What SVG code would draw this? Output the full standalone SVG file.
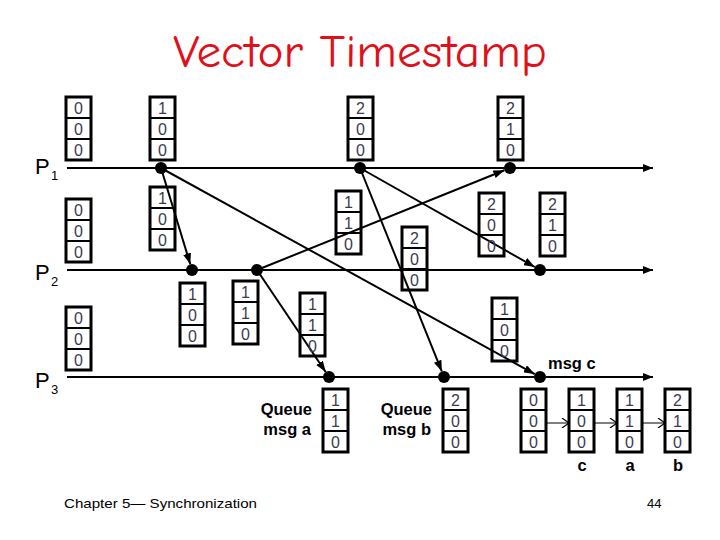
<svg xmlns="http://www.w3.org/2000/svg" width="720" height="540" viewBox="0 0 720 540">
<defs>
<style>
.box{fill:none;stroke:#000;stroke-width:3}
.div{stroke:#000;stroke-width:2}
.dg{font-family:"Liberation Sans",Arial,sans-serif;font-size:16px;fill:#3a3a50;text-anchor:middle}
.pl{stroke:#000;stroke-width:2;fill:none}
.msg{stroke:#000;stroke-width:2;fill:none}
.sm{stroke:#000;stroke-width:1;fill:none}
.lbl{font-family:"Liberation Sans",Arial,sans-serif;font-size:16.5px;font-weight:bold;fill:#000}
.pn{font-family:"Liberation Sans",Arial,sans-serif;fill:#000}
</style>
<marker id="ah" markerUnits="userSpaceOnUse" markerWidth="11" markerHeight="8" refX="11" refY="4" orient="auto"><path d="M0,0 L11,4 L0,8 z" fill="#000"/></marker>
<marker id="ph" markerUnits="userSpaceOnUse" markerWidth="10" markerHeight="8" refX="10" refY="4" orient="auto"><path d="M0,0 L10,4 L0,8 z" fill="#000"/></marker>
<marker id="oh" markerUnits="userSpaceOnUse" markerWidth="9" markerHeight="10" refX="8" refY="5" orient="auto"><path d="M1,0 L8,5 L1,10" fill="none" stroke="#000" stroke-width="1.2"/></marker>
<g id="vbox"><rect class="box" x="0" y="0" width="25" height="63"/><line class="div" x1="0" y1="21" x2="25" y2="21"/><line class="div" x1="0" y1="42" x2="25" y2="42"/></g>
</defs>
<rect width="720" height="540" fill="#fff"/>
<text x="360" y="67" font-family="'Comic Neue','Liberation Sans',Arial,sans-serif" font-size="46" fill="#e0101a" text-anchor="middle" textLength="374" lengthAdjust="spacingAndGlyphs">Vector Timestamp</text>
<g id="processes">
<g id="P1"><line class="pl" x1="67" y1="168" x2="653" y2="168" marker-end="url(#ph)"/><text class="pn" x="35" y="174" font-size="22">P</text><text class="pn" x="51" y="180" font-size="13">1</text></g>
<g id="P2"><line class="pl" x1="67" y1="270" x2="653" y2="270" marker-end="url(#ph)"/><text class="pn" x="35" y="280" font-size="22">P</text><text class="pn" x="51" y="286" font-size="13">2</text></g>
<g id="P3"><line class="pl" x1="67" y1="377" x2="653" y2="377" marker-end="url(#ph)"/><text class="pn" x="35" y="388" font-size="22">P</text><text class="pn" x="51" y="394" font-size="13">3</text></g>
</g>
<g id="connectors">
<line class="msg" x1="161" y1="168" x2="190.3" y2="264.3" marker-end="url(#ah)"/>
<line class="msg" x1="161" y1="168" x2="534.7" y2="374.1" marker-end="url(#ah)"/>
<line class="msg" x1="360" y1="168" x2="441.8" y2="371.4" marker-end="url(#ah)"/>
<line class="msg" x1="360" y1="168" x2="534.8" y2="267" marker-end="url(#ah)"/>
<line class="msg" x1="257" y1="270" x2="504.4" y2="170.2" marker-end="url(#ah)"/>
<line class="msg" x1="257" y1="270" x2="325.7" y2="372" marker-end="url(#ah)"/>
<line class="sm" x1="547" y1="423" x2="569" y2="423" marker-end="url(#oh)"/>
<line class="sm" x1="595" y1="423" x2="617" y2="423" marker-end="url(#oh)"/>
<line class="sm" x1="643" y1="423" x2="665" y2="423" marker-end="url(#oh)"/>
</g>
<g id="events" fill="#000">
<circle cx="161" cy="168" r="6"/><circle cx="360" cy="168" r="6"/><circle cx="510" cy="168" r="6"/>
<circle cx="192" cy="270" r="6"/><circle cx="257" cy="270" r="6"/><circle cx="540" cy="270" r="6"/>
<circle cx="329" cy="377" r="6"/><circle cx="444" cy="377" r="6"/><circle cx="540" cy="377" r="6"/>
</g>
<g id="v1" transform="translate(66,97)"><use href="#vbox"/><text class="dg" x="12.5" y="17">0</text><text class="dg" x="12.5" y="38">0</text><text class="dg" x="12.5" y="59">0</text></g>
<g id="v2" transform="translate(150,97)"><use href="#vbox"/><text class="dg" x="12.5" y="17">1</text><text class="dg" x="12.5" y="38">0</text><text class="dg" x="12.5" y="59">0</text></g>
<g id="v3" transform="translate(348,97)"><use href="#vbox"/><text class="dg" x="12.5" y="17">2</text><text class="dg" x="12.5" y="38">0</text><text class="dg" x="12.5" y="59">0</text></g>
<g id="v4" transform="translate(498,97)"><use href="#vbox"/><text class="dg" x="12.5" y="17">2</text><text class="dg" x="12.5" y="38">1</text><text class="dg" x="12.5" y="59">0</text></g>
<g id="v5" transform="translate(66,199)"><use href="#vbox"/><text class="dg" x="12.5" y="17">0</text><text class="dg" x="12.5" y="38">0</text><text class="dg" x="12.5" y="59">0</text></g>
<g id="v6" transform="translate(150,187)"><use href="#vbox"/><text class="dg" x="12.5" y="17">1</text><text class="dg" x="12.5" y="38">0</text><text class="dg" x="12.5" y="59">0</text></g>
<g id="v7" transform="translate(336,191)"><use href="#vbox"/><text class="dg" x="12.5" y="17">1</text><text class="dg" x="12.5" y="38">1</text><text class="dg" x="12.5" y="59">0</text></g>
<g id="v8" transform="translate(402,227)"><use href="#vbox"/><text class="dg" x="12.5" y="17">2</text><text class="dg" x="12.5" y="38">0</text><text class="dg" x="12.5" y="59">0</text></g>
<g id="v9" transform="translate(479,193)"><use href="#vbox"/><text class="dg" x="12.5" y="17">2</text><text class="dg" x="12.5" y="38">0</text><text class="dg" x="12.5" y="59">0</text></g>
<g id="v10" transform="translate(540,193)"><use href="#vbox"/><text class="dg" x="12.5" y="17">2</text><text class="dg" x="12.5" y="38">1</text><text class="dg" x="12.5" y="59">0</text></g>
<g id="v11" transform="translate(66,307)"><use href="#vbox"/><text class="dg" x="12.5" y="17">0</text><text class="dg" x="12.5" y="38">0</text><text class="dg" x="12.5" y="59">0</text></g>
<g id="v12" transform="translate(180,283)"><use href="#vbox"/><text class="dg" x="12.5" y="17">1</text><text class="dg" x="12.5" y="38">0</text><text class="dg" x="12.5" y="59">0</text></g>
<g id="v13" transform="translate(233,281)"><use href="#vbox"/><text class="dg" x="12.5" y="17">1</text><text class="dg" x="12.5" y="38">1</text><text class="dg" x="12.5" y="59">0</text></g>
<g id="v14" transform="translate(300,293)"><use href="#vbox"/><text class="dg" x="12.5" y="17">1</text><text class="dg" x="12.5" y="38">1</text><text class="dg" x="12.5" y="59">0</text></g>
<g id="v15" transform="translate(492,298)"><use href="#vbox"/><text class="dg" x="12.5" y="17">1</text><text class="dg" x="12.5" y="38">0</text><text class="dg" x="12.5" y="59">0</text></g>
<g id="v16" transform="translate(323,389)"><use href="#vbox"/><text class="dg" x="12.5" y="17">1</text><text class="dg" x="12.5" y="38">1</text><text class="dg" x="12.5" y="59">0</text></g>
<g id="v17" transform="translate(443,389)"><use href="#vbox"/><text class="dg" x="12.5" y="17">2</text><text class="dg" x="12.5" y="38">0</text><text class="dg" x="12.5" y="59">0</text></g>
<g id="v18" transform="translate(521,389)"><use href="#vbox"/><text class="dg" x="12.5" y="17">0</text><text class="dg" x="12.5" y="38">0</text><text class="dg" x="12.5" y="59">0</text></g>
<g id="v19" transform="translate(569,389)"><use href="#vbox"/><text class="dg" x="12.5" y="17">1</text><text class="dg" x="12.5" y="38">0</text><text class="dg" x="12.5" y="59">0</text></g>
<g id="v20" transform="translate(617,389)"><use href="#vbox"/><text class="dg" x="12.5" y="17">1</text><text class="dg" x="12.5" y="38">1</text><text class="dg" x="12.5" y="59">0</text></g>
<g id="v21" transform="translate(665,389)"><use href="#vbox"/><text class="dg" x="12.5" y="17">2</text><text class="dg" x="12.5" y="38">1</text><text class="dg" x="12.5" y="59">0</text></g>
<g id="labels">
<text class="lbl" x="312" y="415" text-anchor="end">Queue</text>
<text class="lbl" x="311" y="435" text-anchor="end">msg a</text>
<text class="lbl" x="432" y="415" text-anchor="end">Queue</text>
<text class="lbl" x="431" y="435" text-anchor="end">msg b</text>
<text class="lbl" x="548" y="369">msg c</text>
<text class="lbl" x="582" y="471" text-anchor="middle">c</text>
<text class="lbl" x="630" y="471" text-anchor="middle">a</text>
<text class="lbl" x="678" y="471" text-anchor="middle">b</text>
</g>
<text x="64" y="508" font-family="'Liberation Sans',Arial,sans-serif" font-size="13" fill="#000" textLength="193" lengthAdjust="spacingAndGlyphs">Chapter 5— Synchronization</text>
<text x="647" y="508" font-family="'Liberation Sans',Arial,sans-serif" font-size="13" fill="#000">44</text>
</svg>
